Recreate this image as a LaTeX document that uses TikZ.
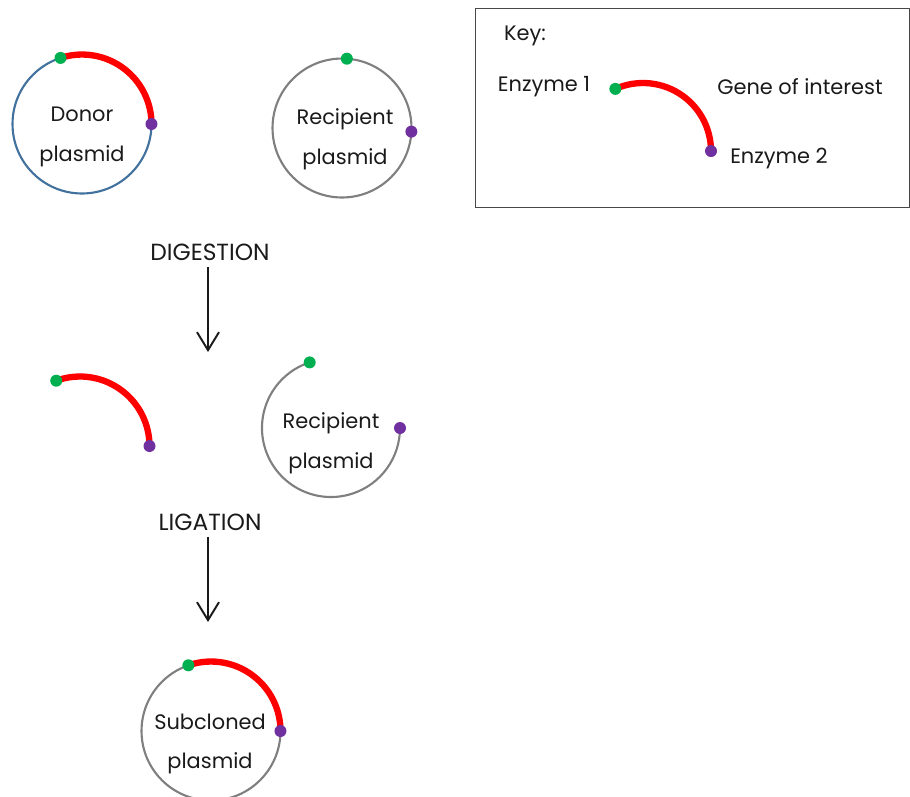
\documentclass[tikz,border=0pt]{standalone}
\usepackage{fontspec}
\setmainfont{Poppins}
\usetikzlibrary{arrows.meta}
\definecolor{donorblue}{HTML}{41719C}
\definecolor{backgray}{HTML}{7F7F7F}
\definecolor{genered}{HTML}{FF0000}
\definecolor{enzgreen}{HTML}{00B050}
\definecolor{enzpurple}{HTML}{7030A0}
\definecolor{txt}{HTML}{1A1A1A}
\tikzset{
    plasmid/.style={circle, draw=backgray, line width=1.2pt, minimum size=2.78cm, inner sep=0pt, outer sep=0pt},
    backbone/.style={draw=backgray, line width=1.2pt},
    gene/.style={draw=genered, line width=3.6pt},
    enzA/.style={fill=enzgreen},
    enzB/.style={fill=enzpurple},
    lbl/.style={text=txt, align=center, font=\fontsize{11.9}{22.5}\selectfont},
    steplbl/.style={text=txt, font=\fontsize{13.3}{15}\selectfont},
    flow/.style={-{Straight Barb[length=0.36cm,width=0.44cm]}, line width=1.1pt, draw=txt}
}
\begin{document}
\begin{tikzpicture}[x=0.02cm, y=0.02cm]
    \useasboundingbox (0,0) rectangle (910,-796);

    % Donor and recipient plasmids
    \node[plasmid, draw=donorblue] (donor) at (82,-124) {};
    \node[lbl] (donortxt) at (82,-137) {Donor\\plasmid};
    \draw[gene] (donor.108) arc[start angle=108, end angle=0, radius=69.5];
    \fill[enzA] (donor.108) circle[radius=6];
    \fill[enzB] (donor.0) circle[radius=6];

    \node[plasmid] (recip) at (342,-128) {};
    \node[lbl] (reciptxt) at (345,-139) {Recipient\\plasmid};
    \fill[enzA] (recip.86) circle[radius=6];
    \fill[enzB] (recip.-3) circle[radius=6];

    % Digestion
    \node[steplbl] (digest) at (210,-252) {DIGESTION};
    \coordinate (digend) at (208,-352);
    \draw[flow] (digend |- digest.south) -- (digend);

    % Cut fragments
    \coordinate (fragc) at (80,-446);
    \draw[gene] ([shift={(110:69.5)}]fragc) coordinate (frag1)
        arc[start angle=110, end angle=0, radius=69.5] coordinate (frag2);
    \fill[enzA] (frag1) circle[radius=6];
    \fill[enzB] (frag2) circle[radius=6];

    \coordinate (openc) at (331,-428);
    \draw[backbone] ([shift={(108:69)}]openc) coordinate (open1)
        arc[start angle=108, end angle=360, radius=69] coordinate (open2);
    \fill[enzA] (open1) circle[radius=6];
    \fill[enzB] (open2) circle[radius=6];
    \node[lbl] (opentxt) at (331,-443) {Recipient\\plasmid};

    % Ligation
    \node[steplbl] (ligate) at (210,-522) {LIGATION};
    \coordinate (ligend) at (208,-622);
    \draw[flow] (ligend |- ligate.south) -- (ligend);

    % Subcloned plasmid
    \node[plasmid] (subcl) at (211,-731) {};
    \node[lbl] (subcltxt) at (210,-744) {Subcloned\\plasmid};
    \draw[gene] (subcl.109) arc[start angle=109, end angle=0, radius=69.5];
    \fill[enzA] (subcl.109) circle[radius=6];
    \fill[enzB] (subcl.0) circle[radius=6];

    % Key
    \node[draw=txt!80, line width=0.8pt, minimum width=8.68cm, minimum height=3.98cm,
        anchor=north west, inner sep=0pt] (key) at (475,-8) {};
    \node[lbl, anchor=west] (keytxt) at (498,-36) {Key:};
    \coordinate (keyc) at (643,-151);
    \draw[gene] ([shift={(114:68)}]keyc) coordinate (key1)
        arc[start angle=114, end angle=0, radius=68] coordinate (key2);
    \fill[enzA] (key1) circle[radius=6];
    \fill[enzB] (key2) circle[radius=6];
    \node[lbl] (enz1txt) at (544,-87) {Enzyme 1};
    \node[lbl] (genetxt) at (800,-87) {Gene of interest};
    \node[lbl] (enz2txt) at (779,-158) {Enzyme 2};
\end{tikzpicture}
\end{document}
